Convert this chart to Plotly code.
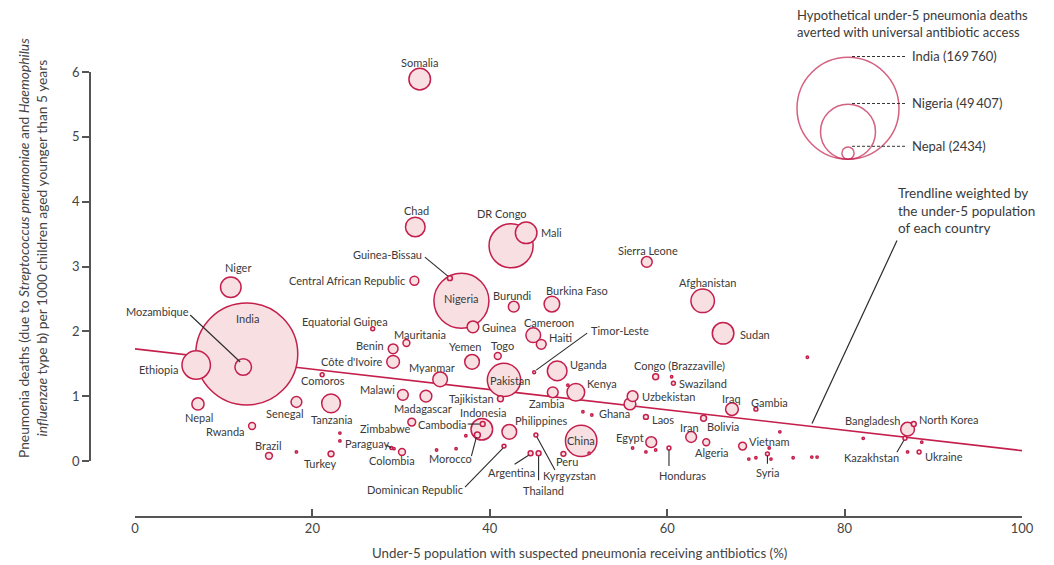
import numpy as np
import plotly.graph_objects as go

# ---------------- data ----------------
countries = [
    "Somalia", "Chad", "DR Congo", "Mali", "Guinea-Bissau", "Central African Republic",
    "Nigeria", "Niger", "India", "Mozambique", "Ethiopia", "Nepal", "Senegal", "Tanzania",
    "Rwanda", "Brazil", "Turkey", "Comoros", "Equatorial Guinea", "Mauritania", "Benin",
    "Côte d'Ivoire", "Myanmar", "Yemen", "Guinea", "Togo", "Pakistan", "Tajikistan",
    "Malawi", "Madagascar", "Zimbabwe", "Paraguay", "Colombia", "Cambodia", "Indonesia",
    "Morocco", "Philippines", "Dominican Republic", "Argentina", "Thailand", "Kyrgyzstan",
    "China", "Peru", "Uganda", "Zambia", "Kenya", "Timor-Leste", "Burundi", "Burkina Faso",
    "Cameroon", "Haiti", "Sierra Leone", "Afghanistan", "Sudan", "Congo (Brazzaville)",
    "Swaziland", "Uzbekistan", "Ghana", "Laos", "Egypt", "Honduras", "Iraq", "Gambia",
    "Iran", "Bolivia", "Algeria", "Vietnam", "Syria", "Bangladesh", "North Korea",
    "Kazakhstan", "Ukraine",
]
# % of under-5 with suspected pneumonia receiving antibiotics
coverage = [
    32.1, 31.6, 42.4, 44.1, 35.5, 31.5,
    36.8, 10.8, 12.6, 12.2, 6.9, 7.1, 18.2, 22.1,
    13.2, 15.1, 22.1, 21.1, 26.8, 30.6, 29.1,
    29.1, 34.4, 38.0, 38.1, 40.9, 41.6, 41.2,
    30.2, 32.8, 31.2, 28.9, 30.1, 39.2, 39.1,
    38.6, 42.2, 41.6, 44.6, 45.5, 45.2,
    50.3, 48.3, 47.6, 47.1, 49.7, 45.0, 42.7, 47.0,
    44.9, 45.8, 57.7, 64.0, 66.3, 58.7,
    60.7, 56.1, 55.8, 57.6, 58.2, 60.2, 67.3, 70.0,
    62.7, 64.1, 64.4, 68.5, 71.3, 87.1, 87.8,
    86.8, 88.4,
]
# pneumonia deaths per 1000 children under 5
death_rate = [
    5.89, 3.61, 3.32, 3.52, 2.82, 2.78,
    2.47, 2.68, 1.65, 1.45, 1.48, 0.88, 0.91, 0.89,
    0.54, 0.08, 0.11, 1.33, 2.04, 1.82, 1.73,
    1.53, 1.26, 1.53, 2.07, 1.62, 1.25, 0.96,
    1.02, 1.00, 0.60, 0.20, 0.14, 0.57, 0.49,
    0.40, 0.45, 0.23, 0.12, 0.12, 0.40,
    0.31, 0.11, 1.39, 1.06, 1.06, 1.37, 2.38, 2.42,
    1.94, 1.80, 3.07, 2.47, 1.97, 1.30,
    1.20, 1.00, 0.88, 0.68, 0.29, 0.20, 0.80, 0.80,
    0.37, 0.66, 0.29, 0.23, 0.11, 0.49, 0.57,
    0.35, 0.14,
]
# hypothetical deaths averted with universal antibiotic access
averted = [
    7600, 6300, 31800, 7600, 390, 1270,
    49407, 6900, 169760, 4500, 13200, 2434, 1900, 5700,
    770, 770, 570, 250, 250, 770, 1570,
    2650, 3530, 3530, 2260, 770, 18100, 570,
    1900, 2260, 1000, 140, 770, 390, 7600,
    570, 3530, 250, 390, 390, 250,
    16100, 390, 6300, 1900, 5100, 140, 1900, 4000,
    3530, 1570, 1900, 9000, 7600, 570,
    250, 1900, 2260, 390, 1900, 250, 2650, 250,
    1900, 570, 770, 1000, 250, 3080, 390,
    250, 250,
]

# unlabelled countries
other_coverage = [18.2, 23.1, 23.1, 29.2, 34.0, 36.2, 37.3, 48.8, 50.5, 51.5, 51.2, 56.1,
                  57.6, 58.7, 60.5, 69.2, 70.0, 71.5, 71.7, 72.7, 74.2, 75.8, 76.3, 76.9,
                  82.1, 87.1, 88.7]
other_rate = [0.14, 0.43, 0.31, 0.19, 0.17, 0.19, 0.39, 1.17, 0.76, 0.71, 0.12, 0.20,
              0.14, 0.17, 1.30, 0.03, 0.05, 0.20, 0.03, 0.45, 0.05, 1.60, 0.06, 0.06,
              0.35, 0.14, 0.29]
other_averted = [90] * len(other_coverage)

# weighted trendline end points
trend_x = [0, 100]
trend_y = [1.73, 0.16]

legend_names = ["India", "Nigeria", "Nepal"]
legend_values = [169760, 49407, 2434]
legend_text = ["India (169\u2009760)", "Nigeria (49\u2009407)", "Nepal (2434)"]

x_ticks = [0, 20, 40, 60, 80, 100]
y_ticks = [0, 1, 2, 3, 4, 5, 6]

# ---------------- label placement (pixel offsets from point, y up) ----------------
LABELS = {
    "Somalia": (0, 17, "center"), "Chad": (1, 16, "center"), "DR Congo": (-9, 32, "center"),
    "Mali": (13, 0, "left"), "Guinea-Bissau": (-62, 24, "center"),
    "Central African Republic": (-7, 0, "right"), "Nigeria": (0, 2, "center"),
    "Niger": (7, 20, "center"), "India": (1, 36, "center"), "Mozambique": (-86, 55, "center"),
    "Ethiopia": (-16, -4, "right"), "Nepal": (1, -14, "center"), "Senegal": (-12, -11, "center"),
    "Tanzania": (1, -16, "center"), "Rwanda": (-5, -6, "right"), "Brazil": (0, 10, "center"),
    "Turkey": (-11, -10, "center"), "Comoros": (1, -6, "center"),
    "Equatorial Guinea": (-28, 7, "center"), "Mauritania": (14, 9, "center"),
    "Benin": (-7, 3, "right"), "Côte d'Ivoire": (-9, 0, "right"), "Myanmar": (-8, 12, "center"),
    "Yemen": (-7, 15, "center"), "Guinea": (7, -1, "left"), "Togo": (5, 10, "center"),
    "Pakistan": (6, -1, "center"), "Tajikistan": (-4, 0, "right"), "Malawi": (-6, 5, "right"),
    "Madagascar": (-3, -12, "center"), "Zimbabwe": (-26, -6, "center"),
    "Paraguay": (-24, 5, "center"), "Colombia": (-10, -9, "center"),
    "Cambodia": (-40, 0, "center"), "Indonesia": (1, 17, "center"),
    "Morocco": (-27, -23, "center"), "Philippines": (32, 11, "center"),
    "Dominican Republic": (-89, -43, "center"), "Argentina": (-19, -19, "center"),
    "Thailand": (5, -37, "center"), "Kyrgyzstan": (34, -40, "center"), "China": (0, 0, "center"),
    "Peru": (4, -8, "center"), "Uganda": (11, 6, "left"), "Zambia": (-6, -11, "center"),
    "Kenya": (9, 9, "left"), "Timor-Leste": (55, 42, "left"), "Burundi": (-1, 11, "center"),
    "Burkina Faso": (25, 14, "center"), "Cameroon": (16, 13, "center"), "Haiti": (6, 7, "left"),
    "Sierra Leone": (1, 11, "center"), "Afghanistan": (5, 18, "center"), "Sudan": (15, -1, "left"),
    "Congo (Brazzaville)": (24, 11, "center"), "Swaziland": (4, 0, "left"),
    "Uzbekistan": (7, 0, "left"), "Ghana": (-15, -10, "center"), "Laos": (4, -3, "left"),
    "Egypt": (-21, 5, "center"), "Honduras": (14, -27, "center"), "Iraq": (0, 11, "center"),
    "Gambia": (14, 7, "center"), "Iran": (-2, 10, "center"), "Bolivia": (19, -8, "center"),
    "Algeria": (6, -10, "center"), "Vietnam": (4, 5, "left"), "Syria": (0, -19, "center"),
    "Bangladesh": (-6, 9, "right"), "North Korea": (3, 5, "left"),
    "Kazakhstan": (-33, -19, "center"), "Ukraine": (4, -5, "left"),
}
LEADERS = {
    "Guinea-Bissau": (-2, 2, -25, 21), "Mozambique": (-3, 5, -53, 52),
    "Cambodia": (-3, 0, -15, 0), "Morocco": (-1, -2, -6, -21),
    "Dominican Republic": (-1, -2, -39, -41), "Argentina": (-2, -2, -16, -11),
    "Thailand": (0, -3, 0, -27), "Kyrgyzstan": (1, -2, 19, -35),
    "Timor-Leste": (2, 2, 53, 39), "Honduras": (0, -2, 0, -18), "Syria": (0, -2, 0, -10),
    "Paraguay": (0, 0, -5, 3), "Kazakhstan": (-1, -2, -8, -14),
}

# ---------------- layout geometry ----------------
W, H = 1054, 565
L, R, T, B = 90, 32, 72, 48
X0PX, X1PX = 135, 1022
Y0PX, Y1PX = 461, 72
PW, PH = W - L - R, H - T - B
PPX = (X1PX - X0PX) / 100.0
PPY = (Y0PX - Y1PX) / 6.0


def paper_x(px):
    return (px - L) / PW


def paper_y(py):
    return (H - B - py) / PH


def data_to_paper(xv, yv):
    return paper_x(X0PX + xv * PPX), paper_y(Y0PX - yv * PPY)


RED = "#c41f4c"
FILL = "#f8dfe2"
TXT = "#3a3a3a"
FONT = "Lato, Roboto, sans-serif"

MAX_D = 102.0
max_val = max(legend_values)
sizeref = 2.0 * max_val / MAX_D ** 2


def diam(v):
    return MAX_D * np.sqrt(v / max_val)


fig = go.Figure()

# trendline beneath bubbles
fig.add_trace(go.Scatter(x=trend_x, y=trend_y, mode="lines",
                         line=dict(color=RED, width=1.6), hoverinfo="skip", cliponaxis=False))

# bubbles, large first
all_x = coverage + other_coverage
all_y = death_rate + other_rate
all_s = averted + other_averted
order = np.argsort(all_s)[::-1]
fig.add_trace(go.Scatter(
    x=[all_x[i] for i in order], y=[all_y[i] for i in order], mode="markers",
    marker=dict(size=[all_s[i] for i in order], sizemode="area", sizeref=sizeref,
                color=FILL, opacity=1, line=dict(color=RED, width=1.5)),
    cliponaxis=False, hoverinfo="skip"))

# legend bubbles (nested, tangent at bottom)
leg_cx = (848 - X0PX) / PPX
leg_bottom = (Y0PX - 160) / PPY
leg_cy = [leg_bottom + (diam(v) / 2 + 0.75) / PPY for v in legend_values]
fig.add_trace(go.Scatter(
    x=[leg_cx] * 3, y=leg_cy, mode="markers",
    marker=dict(size=legend_values, sizemode="area", sizeref=sizeref,
                color="rgba(0,0,0,0)", line=dict(color=RED, width=1.5)),
    cliponaxis=False, hoverinfo="skip"))

shapes = []
annotations = []
for v, txt in zip(legend_values, legend_text):
    top_py = 160 - (diam(v) + 1.5)
    yp = paper_y(top_py)
    shapes.append(dict(type="line", xref="paper", yref="paper", x0=paper_x(852), x1=paper_x(905),
                       y0=yp, y1=yp, line=dict(color="#333", width=1, dash="3px,2px")))
    annotations.append(dict(x=paper_x(910), y=yp, xref="paper", yref="paper", text=txt,
                            xanchor="left", yanchor="middle", showarrow=False,
                            font=dict(family=FONT, size=13, color=TXT)))

annotations.append(dict(x=paper_x(795), y=paper_y(5), xref="paper", yref="paper",
                        text="Hypothetical under-5 pneumonia deaths<br>averted with universal antibiotic access",
                        xanchor="left", yanchor="top", align="left", showarrow=False,
                        font=dict(family=FONT, size=13, color=TXT)))

# country labels
for name, xv, yv in zip(countries, coverage, death_rate):
    dx, dy, anc = LABELS[name]
    annotations.append(dict(x=xv, y=yv, xref="x", yref="y", text=name, showarrow=False,
                            xshift=dx, yshift=dy, xanchor=anc, yanchor="middle",
                            font=dict(family=FONT, size=11, color=TXT)))
    if name in LEADERS:
        a, b, c, d = LEADERS[name]
        xp, yp = data_to_paper(xv, yv)
        shapes.append(dict(type="line", xref="paper", yref="paper", xsizemode="pixel",
                           ysizemode="pixel", xanchor=xp, yanchor=yp, x0=a, y0=b, x1=c, y1=d,
                           line=dict(color="#2a2a2a", width=1.1)))

# trendline callout
tx = (812 - X0PX) / PPX
ty = float(np.interp(tx, trend_x, trend_y))
txp, typ = data_to_paper(tx, ty)
shapes.append(dict(type="line", xref="paper", yref="paper", xsizemode="pixel", ysizemode="pixel",
                   xanchor=txp, yanchor=typ, x0=0, y0=3, x1=85, y1=186,
                   line=dict(color="#2a2a2a", width=1.2)))
annotations.append(dict(x=paper_x(896), y=paper_y(210), xref="paper", yref="paper",
                        text="Trendline weighted by<br>the under-5 population<br>of each country",
                        xanchor="left", yanchor="middle", align="left", showarrow=False,
                        font=dict(family=FONT, size=13.5, color=TXT)))

# axis titles
annotations.append(dict(x=paper_x(579), y=paper_y(553), xref="paper", yref="paper",
                        text="Under-5 population with suspected pneumonia receiving antibiotics (%)",
                        xanchor="center", yanchor="middle", showarrow=False,
                        font=dict(family=FONT, size=13.3, color="#444")))
annotations.append(dict(x=paper_x(33), y=paper_y(248), xref="paper", yref="paper",
                        text="Pneumonia deaths (due to <i>Streptococcus pneumoniae</i> and <i>Haemophilus</i><br>"
                             "<i>influenzae</i> type b) per 1000 children aged younger than 5 years",
                        textangle=-90, xanchor="center", yanchor="middle", showarrow=False,
                        font=dict(family=FONT, size=13.8, color="#444")))

fig.update_layout(
    width=W, height=H, margin=dict(l=L, r=R, t=T, b=B),
    paper_bgcolor="white", plot_bgcolor="white", showlegend=False,
    shapes=shapes, annotations=annotations,
    xaxis=dict(range=[0, 100], domain=[paper_x(X0PX), 1], anchor="free", position=0,
               tickvals=x_ticks, ticks="inside", ticklen=7, tickwidth=1.5, tickcolor="#555",
               showline=True, linecolor="#555", linewidth=1.5, showgrid=False, zeroline=False,
               tickfont=dict(family=FONT, size=13, color="#444")),
    yaxis=dict(range=[0, 6], domain=[paper_y(Y0PX), 1], anchor="free", position=0,
               tickvals=y_ticks, ticks="outside", ticklen=7, tickwidth=1.5, tickcolor="#555",
               showline=True, linecolor="#555", linewidth=1.5, showgrid=False, zeroline=False,
               tickfont=dict(family=FONT, size=13, color="#444")),
)

fig.write_html("out.html")
